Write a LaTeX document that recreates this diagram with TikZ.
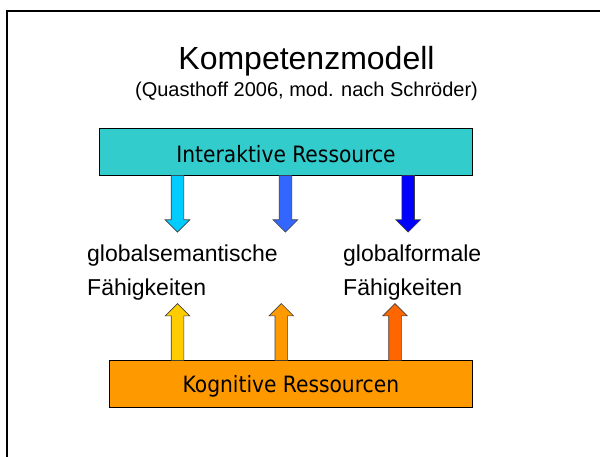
\documentclass[tikz,border=0pt]{standalone}
\usepackage{fontspec}
\setmainfont{Liberation Sans}
\newfontfamily\boxfont{DejaVu Sans Condensed}
\usetikzlibrary{shapes.arrows}

\definecolor{resteal}{HTML}{33CCCC}
\definecolor{resorange}{HTML}{FF9900}
\definecolor{dnone}{HTML}{00CCFF}
\definecolor{dntwo}{HTML}{3366FF}
\definecolor{dnthree}{HTML}{0000FF}
\definecolor{upone}{HTML}{FFCC00}
\definecolor{uptwo}{HTML}{FF9900}
\definecolor{upthree}{HTML}{FF6600}

\begin{document}
\begin{tikzpicture}[
    x=1pt, y=-1pt,
    res/.style={draw, line width=0.8pt, inner sep=0pt, minimum height=47pt, text depth=0pt, font=\boxfont\fontsize{22.5}{27}\selectfont},
    fat/.style={single arrow, draw=black!75, line width=0.6pt, inner xsep=0pt, inner ysep=6pt, outer sep=0pt, minimum width=24pt, single arrow head extend=6pt, minimum height=56.7pt, anchor=tail},
    lbl/.style={align=left, inner sep=0pt, anchor=north west, font=\fontsize{23}{34}\selectfont}
]
\useasboundingbox (0,0) rectangle (600,457);
% slide frame, runs off the page
\draw[line width=2pt] (7,11) rectangle (620,470);

% heading
\node[font=\fontsize{32}{36}\selectfont, anchor=base] (title) at (306.5,70) {Kompetenzmodell};
\node[font=\fontsize{20}{24}\selectfont, anchor=base] (sub) at (306.5,97) {(Quasthoff 2006, mod. nach Schröder)};

% the two resources
\node[res, fill=resteal, minimum width=373pt, text height=22pt] (ir) at (286,151.5) {Interaktive Ressource};
\node[res, fill=resorange, minimum width=363.7pt, text height=17pt] (kr) at (290.9,384.2) {Kognitive Ressourcen};

% abilities in between
\node[lbl] (gs) at (87,245) {globalsemantische\\Fähigkeiten};
\node[lbl] (gf) at (343,245) {globalformale\\Fähigkeiten};

% arrows down from the interactive resource
\node[fat, fill=dnone, rotate=-90] (d1) at ([xshift=-108.5pt]ir.south) {};
\node[fat, fill=dntwo, rotate=-90] (d2) at ([xshift=-0.6pt]ir.south) {};
\node[fat, fill=dnthree, rotate=-90] (d3) at ([xshift=122.2pt]ir.south) {};

% arrows up from the cognitive resources
\node[fat, fill=upone, rotate=90] (u1) at ([xshift=-113.4pt]kr.north) {};
\node[fat, fill=uptwo, rotate=90] (u2) at ([xshift=-9.6pt]kr.north) {};
\node[fat, fill=upthree, rotate=90] (u3) at ([xshift=104.1pt]kr.north) {};
\end{tikzpicture}
\end{document}
